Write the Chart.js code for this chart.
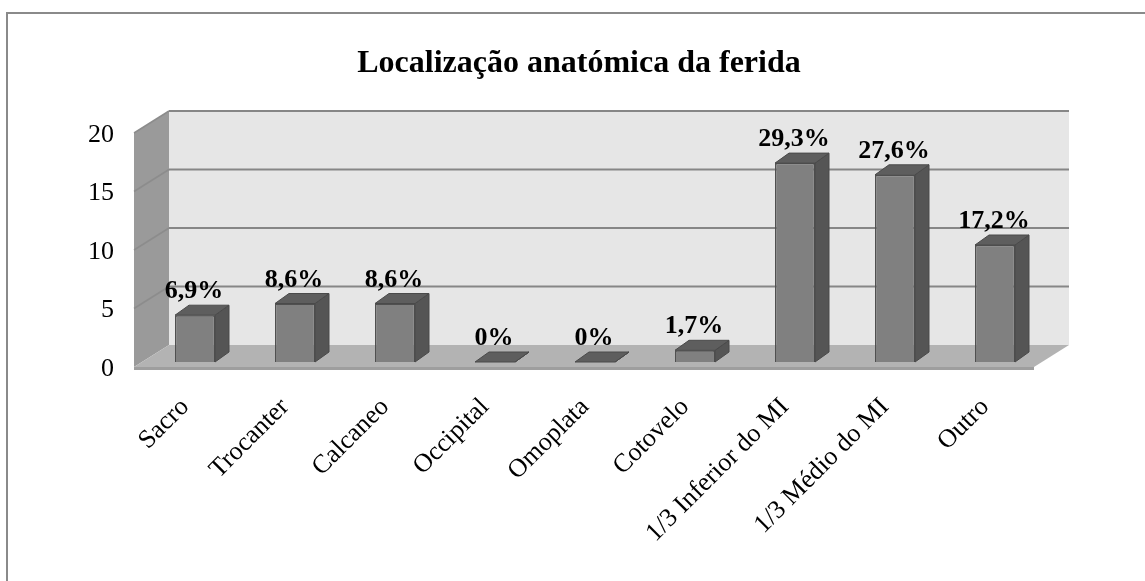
<!DOCTYPE html>
<html lang="pt">
<head>
<meta charset="utf-8">
<title>Localização anatómica da ferida</title>
<script src="https://cdn.jsdelivr.net/npm/chart.js@4.4.0/dist/chart.umd.min.js"></script>
<style>
  html, body { margin: 0; padding: 0; background: #fff; overflow: hidden; }
  #moldura { position: absolute; left: 6px; top: 12px; width: 1300px; height: 800px; border: 2px solid #8a8a8a; box-sizing: border-box; }
  #grafico { position: absolute; left: 0; top: 0; }
</style>
</head>
<body>
<div id="moldura"></div>
<canvas id="grafico" width="1145" height="581"></canvas>
<script>
// Dados do gráfico
const titulo = 'Localização anatómica da ferida';
const categorias = ['Sacro', 'Trocanter', 'Calcaneo', 'Occipital', 'Omoplata', 'Cotovelo', '1/3 Inferior do MI', '1/3 Médio do MI', 'Outro'];
const valores = [4, 5, 5, 0, 0, 1, 17, 16, 10];
const percentuais = ['6,9%', '8,6%', '8,6%', '0%', '0%', '1,7%', '29,3%', '27,6%', '17,2%'];
const marcasY = [0, 5, 10, 15, 20];

const fonte = "'Liberation Serif', 'Times New Roman', serif";

// deslocamentos da perspectiva 3D (px)
const fundo = { dx: 24, dy: -17 };  // parede do fundo
const frente = { dx: -11, dy: 5 };  // borda da frente do chão e da parede lateral
const prof = { dx: 14, dy: -10 };   // profundidade das barras

// Plugin que desenha paredes, chão, faces laterais das barras e rótulos
const efeito3D = {
  id: 'efeito3D',
  beforeDatasetsDraw(chart) {
    const { ctx, chartArea, scales } = chart;
    const y = scales.y;
    const esq = chartArea.left, dir = chartArea.right;
    const y0 = y.getPixelForValue(0);
    const yMax = y.getPixelForValue(marcasY[marcasY.length - 1]);
    ctx.save();

    // parede do fundo
    ctx.fillStyle = '#e6e6e6';
    ctx.fillRect(esq + fundo.dx, yMax + fundo.dy, dir - esq, y0 - yMax);

    // parede lateral
    ctx.fillStyle = '#9a9a9a';
    ctx.beginPath();
    ctx.moveTo(esq + frente.dx, yMax + frente.dy);
    ctx.lineTo(esq + fundo.dx, yMax + fundo.dy);
    ctx.lineTo(esq + fundo.dx, y0 + fundo.dy);
    ctx.lineTo(esq + frente.dx, y0 + frente.dy);
    ctx.closePath();
    ctx.fill();

    // linhas de grade (fundo e parede lateral)
    marcasY.forEach(v => {
      if (v === 0) return;
      const py = y.getPixelForValue(v);
      ctx.strokeStyle = '#868686';
      ctx.lineWidth = 2;
      ctx.beginPath();
      ctx.moveTo(esq + fundo.dx, py + fundo.dy);
      ctx.lineTo(dir + fundo.dx, py + fundo.dy);
      ctx.stroke();
      ctx.strokeStyle = '#8c8c8c';
      ctx.lineWidth = 1.5;
      ctx.beginPath();
      ctx.moveTo(esq + frente.dx, py + frente.dy);
      ctx.lineTo(esq + fundo.dx, py + fundo.dy);
      ctx.stroke();
    });

    // chão
    ctx.fillStyle = '#b3b3b3';
    ctx.beginPath();
    ctx.moveTo(esq + fundo.dx, y0 + fundo.dy);
    ctx.lineTo(dir + fundo.dx, y0 + fundo.dy);
    ctx.lineTo(dir + frente.dx, y0 + frente.dy);
    ctx.lineTo(esq + frente.dx, y0 + frente.dy);
    ctx.closePath();
    ctx.fill();
    ctx.fillStyle = '#9e9e9e';
    ctx.fillRect(esq + frente.dx, y0 + frente.dy, dir - esq, 3);

    ctx.restore();
  },
  afterDatasetsDraw(chart) {
    const { ctx } = chart;
    const barras = chart.getDatasetMeta(0).data;
    ctx.save();
    ctx.lineWidth = 1;
    ctx.strokeStyle = '#4a4a4a';
    barras.forEach((b, i) => {
      const l = b.x - b.width / 2, r = b.x + b.width / 2;
      const t = b.y, base = b.base;
      // face lateral
      ctx.fillStyle = '#555555';
      ctx.beginPath();
      ctx.moveTo(r, t);
      ctx.lineTo(r + prof.dx, t + prof.dy);
      ctx.lineTo(r + prof.dx, base + prof.dy);
      ctx.lineTo(r, base);
      ctx.closePath();
      ctx.fill();
      ctx.stroke();
      // face superior
      ctx.fillStyle = '#5e5e5e';
      ctx.beginPath();
      ctx.moveTo(l, t);
      ctx.lineTo(l + prof.dx, t + prof.dy);
      ctx.lineTo(r + prof.dx, t + prof.dy);
      ctx.lineTo(r, t);
      ctx.closePath();
      ctx.fill();
      ctx.stroke();

      // rótulo de percentual
      ctx.fillStyle = '#000';
      ctx.font = 'bold 26px ' + fonte;
      ctx.textAlign = 'center';
      ctx.textBaseline = 'alphabetic';
      ctx.fillText(percentuais[i], b.x - 1, t - 17);
    });
    ctx.restore();
  },
  afterDraw(chart) {
    const { ctx } = chart;
    ctx.save();
    ctx.fillStyle = '#000';
    ctx.font = 'bold 32px ' + fonte;
    ctx.textAlign = 'center';
    ctx.textBaseline = 'alphabetic';
    ctx.fillText(titulo, 579, 72);
    ctx.restore();
  }
};

const ctx = document.getElementById('grafico').getContext('2d');
const grafico = new Chart(ctx, {
  type: 'bar',
  data: {
    labels: categorias,
    datasets: [{
      data: valores,
      backgroundColor: '#808080',
      borderColor: '#505050',
      borderWidth: 1.5,
      barPercentage: 0.4,
      categoryPercentage: 1
    }]
  },
  options: {
    responsive: false,
    animation: false,
    layout: { padding: { left: 80, right: 100, top: 128, bottom: 0 } },
    plugins: {
      legend: { display: false },
      tooltip: { enabled: false }
    },
    scales: {
      x: {
        grid: { display: false },
        border: { display: false },
        ticks: {
          font: { family: fonte, size: 26 },
          color: '#000',
          minRotation: 45,
          maxRotation: 45,
          autoSkip: false,
          padding: 22,
          labelOffset: -10
        },
        afterFit(s) { s.height = 581 - 362; }
      },
      y: {
        min: 0,
        max: 20,
        grid: { display: false },
        border: { display: false },
        ticks: {
          stepSize: 5,
          font: { family: fonte, size: 26 },
          color: '#000',
          padding: 23,
          labelOffset: 7
        },
        afterFit(s) { s.width = 145 - 80; }
      }
    }
  },
  plugins: [efeito3D]
});
</script>
</body>
</html>
